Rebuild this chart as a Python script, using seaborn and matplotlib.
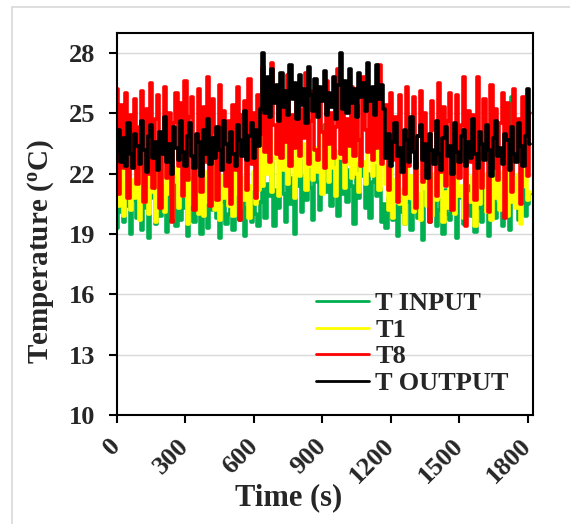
#!/usr/bin/env python3
# Temperature sensors over time

import pandas as pd
import matplotlib
matplotlib.use('Agg')
import matplotlib.pyplot as plt
import seaborn as sns
from matplotlib.lines import Line2D

# one reading every 10 s
time_s = list(range(0, 1811, 10))

# T INPUT (green)
t_input = [
    19.3, 20.9, 20.1, 19.6, 21.2, 20.4, 19.0, 20.7, 21.4, 19.8,
    20.5, 19.2, 21.0, 20.3, 18.8, 20.8, 21.3, 19.5, 20.2, 19.9,
    21.1, 20.6, 19.1, 20.9, 20.0, 21.5, 19.4, 20.4, 19.7, 21.0,
    20.3, 18.9, 20.7, 21.2, 19.6, 20.1, 20.8, 19.0, 21.4, 20.5,
    19.3, 20.9, 20.2, 21.1, 19.8, 18.8, 20.6, 21.3, 19.5, 20.0,
    20.7, 19.2, 21.0, 20.4, 19.7, 21.2, 18.9, 20.3, 20.8, 19.6,
    21.1, 20.0, 19.4,
    20.6, 22.0, 19.8, 21.5, 20.9, 22.6, 19.4, 21.2, 20.3, 22.3,
    21.0, 19.6, 22.4, 20.5, 21.8, 19.0, 21.4, 22.7, 20.1, 21.9,
    20.7, 22.9, 21.3, 19.7, 23.0, 21.6, 20.2, 23.5, 24.4, 21.1,
    22.1, 20.4, 23.2, 21.7, 19.9, 22.8, 21.0, 23.6, 20.6, 22.2,
    21.4, 19.5, 22.5, 20.8, 23.1, 21.9, 20.3, 22.0, 19.8, 21.6,
    22.4, 20.9, 21.3, 19.6, 20.5,
    19.3, 20.8, 21.2, 19.7, 20.4, 18.9, 21.0, 20.1, 19.5, 21.3,
    20.6, 19.2, 20.9, 21.4, 19.8, 20.3, 18.7, 21.1, 20.5, 19.6,
    20.9, 21.5, 19.4, 20.2, 20.7, 19.0, 21.2, 20.0, 19.7, 21.0,
    20.4, 18.8, 21.3, 20.8, 19.5, 20.1, 21.4, 19.9, 20.6, 19.1,
    21.0, 20.3, 19.6, 21.2, 20.7, 18.9, 20.4, 21.1, 19.8, 20.5,
    21.3, 19.4, 20.9, 20.0, 19.2, 25.8, 20.6, 21.0, 19.7, 20.3,
    21.2, 19.9, 20.5, 21.0,
]

# T1 (yellow)
t1 = [
    21.8, 20.4, 22.3, 19.9, 21.5, 22.0, 20.2, 21.7, 20.8, 22.4,
    19.7, 21.3, 20.6, 22.1, 20.0, 21.9, 21.1, 19.6, 22.5, 20.7,
    21.4, 20.1, 22.2, 21.0, 19.8, 21.6, 22.3, 20.3, 21.2, 20.9,
    22.0, 19.5, 21.8, 20.5, 22.4, 21.3, 20.0, 21.7, 19.9, 22.1,
    20.6, 21.5, 22.5, 20.2, 21.1, 19.7, 21.9, 20.8, 22.2, 20.4,
    21.6, 19.9, 22.3, 21.0, 20.3, 21.8, 20.7, 22.4, 19.8, 21.4,
    22.1, 20.5, 21.2,
    23.9, 21.4, 23.2, 22.0, 24.1, 21.1, 22.8, 23.6, 20.9, 23.0,
    22.2, 24.0, 21.5, 23.4, 22.6, 20.8, 23.8, 21.9, 22.9, 23.5,
    21.2, 24.2, 22.4, 21.7, 23.3, 22.1, 23.9, 21.0, 22.7, 23.6,
    21.6, 24.0, 22.3, 20.9, 23.1, 22.8, 23.7, 21.3, 22.5, 24.1,
    21.8, 23.4, 22.0, 21.1, 23.9, 22.6, 21.5, 23.2, 24.0, 21.9,
    22.7, 23.5, 21.2, 23.8, 22.4,
    21.5, 20.2, 22.4, 19.8, 21.7, 22.1, 20.5, 21.2, 19.5, 22.3,
    20.8, 21.9, 20.1, 22.5, 21.0, 19.7, 21.6, 22.2, 20.4, 21.3,
    19.9, 22.0, 20.7, 21.8, 22.4, 19.6, 21.1, 20.3, 22.1, 21.5,
    20.0, 22.6, 20.9, 21.4, 19.8, 22.2, 21.0, 20.6, 21.9, 19.4,
    22.3, 20.5, 21.7, 22.0, 20.1, 21.2, 19.7, 22.4, 20.8, 21.6,
    20.2, 22.1, 21.3, 19.9, 22.5, 20.6, 21.8, 20.3, 22.0, 19.5,
    21.4, 22.2, 20.7, 21.1,
]

# T8 (red)
t8 = [
    26.2, 21.0, 25.4, 22.3, 26.0, 20.8, 24.9, 23.1, 25.7, 21.5,
    24.3, 26.1, 20.6, 25.2, 22.0, 26.5, 21.3, 24.7, 25.9, 20.3,
    23.6, 26.3, 21.8, 25.0, 19.6, 24.5, 26.0, 22.4, 25.5, 20.9,
    26.6, 21.7, 24.8, 25.8, 20.2, 23.9, 26.2, 21.1, 25.3, 22.6,
    26.8, 20.4, 25.7, 24.1, 20.7, 26.4, 22.9, 25.1, 21.4, 24.6,
    20.5, 25.4, 22.2, 26.3, 19.7, 24.9, 25.6, 21.2, 26.7, 22.5,
    25.0, 20.8, 25.9,
    24.0, 27.3, 23.1, 25.8, 22.6, 27.5, 24.4, 23.0, 26.2, 22.8,
    25.5, 23.6, 26.9, 22.4, 24.9, 23.3, 26.4, 22.9, 25.2, 23.8,
    27.0, 22.5, 24.6, 26.1, 23.2, 22.7, 25.7, 24.1, 22.3, 26.6,
    23.5, 25.0, 22.8, 24.3, 27.2, 23.0, 25.9, 22.6, 24.7, 23.4,
    26.3, 22.9, 25.4, 23.7, 22.4, 26.8, 24.2, 23.1, 25.6, 22.7,
    24.8, 23.3, 27.4, 22.5, 25.1,
    25.4, 21.2, 26.0, 22.7, 24.8, 20.6, 25.9, 23.2, 21.0, 26.3,
    22.4, 24.7, 25.8, 20.3, 23.9, 26.1, 21.6, 25.0, 22.9, 19.6,
    25.6, 24.2, 20.9, 26.5, 22.1, 25.3, 21.4, 24.6, 26.0, 20.2,
    23.7, 25.9, 21.8, 24.4, 26.8, 19.4, 25.1, 22.6, 24.9, 20.7,
    26.8, 23.0, 21.3, 25.7, 24.1, 20.1, 26.4, 22.3, 25.2, 21.7,
    24.5, 26.0, 19.8, 25.5, 23.4, 21.1, 26.2, 22.8, 24.7, 20.5,
    25.8, 23.6, 21.9, 25.0,
]

# T OUTPUT (black)
t_output = [
    23.1, 24.2, 22.6, 23.8, 22.4, 24.5, 23.0, 22.3, 24.0, 23.4,
    22.5, 24.6, 23.2, 22.1, 23.9, 24.4, 22.8, 23.6, 22.2, 24.1,
    23.0, 24.8, 22.6, 23.5, 22.0, 24.3, 23.3, 22.7, 24.6, 23.1,
    22.4, 23.9, 24.5, 22.9, 22.3, 24.0, 23.6, 21.9, 24.2, 23.0,
    24.7, 22.5, 23.8, 22.8, 24.3, 23.2, 22.2, 24.6, 23.5, 22.6,
    24.1, 23.0, 22.4, 24.4, 23.7, 22.9, 25.1, 22.7, 23.9, 24.5,
    22.8, 24.2, 23.4,
    25.2, 28.0, 25.0, 26.8, 24.8, 27.2, 25.5, 26.4, 24.6, 27.0,
    25.3, 26.1, 24.9, 27.4, 25.7, 26.5, 24.7, 26.9, 25.4, 26.2,
    24.5, 27.3, 25.9, 25.1, 26.7, 24.8, 26.3, 25.6, 27.1, 24.9,
    26.0, 25.3, 26.8, 24.7, 26.4, 28.0, 25.2, 26.6, 25.0, 27.2,
    25.5, 26.2, 24.8, 27.0, 25.8, 26.5, 25.1, 27.5, 25.6, 26.3,
    24.9, 27.4, 25.7, 26.4, 25.2,
    22.8, 24.0, 22.4, 23.6, 24.5, 22.9, 23.3, 22.1, 24.2, 23.7,
    22.6, 24.8, 23.1, 22.3, 23.9, 24.4, 22.7, 23.5, 21.8, 24.0,
    23.2, 22.5, 24.6, 23.0, 22.2, 23.8, 24.3, 22.9, 23.4, 22.0,
    24.5, 23.1, 22.6, 23.9, 24.2, 22.4, 23.6, 22.8, 24.7, 23.0,
    22.3, 24.1, 23.5, 22.7, 24.4, 23.2, 21.9, 23.8, 24.6, 22.9,
    23.3, 22.5, 24.0, 23.7, 22.2, 24.3, 23.0, 22.6, 24.5, 23.4,
    22.4, 23.9, 26.2, 23.5,
]

sensors = ['T INPUT', 'T1', 'T8', 'T OUTPUT']
colors = ['#00B050', '#FFFF00', '#FF0000', '#000000']

df = pd.DataFrame({
    'time': time_s * 4,
    'temp': t_input + t1 + t8 + t_output,
    'sensor': [s for s in sensors for _ in time_s],
})

# style
sns.set_style('white')
plt.rcParams['font.family'] = ['Liberation Serif', 'DejaVu Serif']
plt.rcParams['font.weight'] = 'bold'
plt.rcParams['axes.labelweight'] = 'bold'

fig = plt.figure(figsize=(5.7, 5.24), dpi=100)
ax = fig.add_axes([117 / 570, 1 - 415 / 524, 416 / 570, 382 / 524])

sns.lineplot(data=df, x='time', y='temp', hue='sensor', hue_order=sensors,
             palette=colors, estimator=None, sort=False, linewidth=2.6,
             drawstyle='steps-mid', ax=ax)

ax.set_xlim(0, 1822)
ax.set_ylim(10, 29)
ax.set_xticks(range(0, 1801, 300))
ax.set_yticks(range(10, 29, 3))
ax.set_axisbelow(True)
ax.yaxis.grid(True, color='#d9d9d9', linewidth=1)
ax.xaxis.grid(False)

for sp in ax.spines.values():
    sp.set_color('black')
    sp.set_linewidth(1.5)
    sp.set_zorder(5)

ax.tick_params(axis='both', which='major', direction='out', length=5.5, width=1.5,
               labelsize=19, color='black', left=True, bottom=True)
ax.tick_params(axis='y', pad=10)
ax.tick_params(axis='x', pad=14)
for lab in ax.get_xticklabels():
    lab.set_rotation(45)
    lab.set_ha('right')
    lab.set_va('center')
    lab.set_rotation_mode('anchor')
    lab.set_fontweight('bold')
for lab in ax.get_yticklabels():
    lab.set_fontweight('bold')

ax.set_xlabel('Time (s)', fontsize=22, fontweight='bold')
ax.set_ylabel(r'Temperature ($\mathregular{^{o}}$C)', fontsize=21, fontweight='bold')
ax.xaxis.set_label_coords(0.413, -0.178)
ax.yaxis.set_label_coords(-0.147, 0.427)

leg = ax.legend(loc='lower left', bbox_to_anchor=(0.478, 0.052), frameon=False,
                fontsize=19, handlelength=2.0, handletextpad=0.25,
                labelspacing=0.12, borderpad=0, borderaxespad=0)
for txt in leg.get_texts():
    txt.set_fontweight('bold')
for h in leg.get_lines():
    h.set_linewidth(2)
    h.set_drawstyle('default')

# light frame around the chart area
fig.add_artist(Line2D([12 / 570, 12 / 570], [0, 1 - 7 / 524], color='#d9d9d9',
                      linewidth=1.2, transform=fig.transFigure))
fig.add_artist(Line2D([12 / 570, 1], [1 - 7 / 524, 1 - 7 / 524], color='#d9d9d9',
                      linewidth=1.2, transform=fig.transFigure))

fig.savefig('out.png', dpi=100, facecolor='white')
